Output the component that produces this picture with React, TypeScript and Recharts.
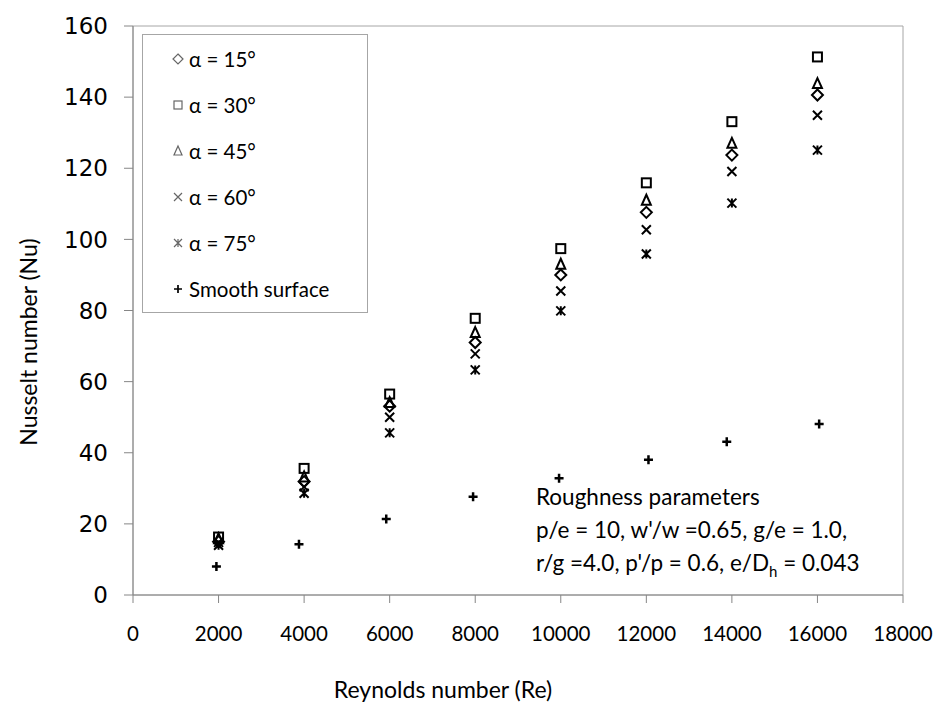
import React from "react";
import { ScatterChart, Scatter, XAxis, YAxis, ReferenceArea } from "recharts";

// Reynolds number positions of the ribbed-surface measurements
const reynolds = [2000, 4000, 6000, 8000, 10000, 12000, 14000, 16000];

// Nusselt number per rib angle
const nuAlpha15 = [15.0, 31.9, 53.1, 71.0, 90.0, 107.6, 123.7, 140.6];
const nuAlpha30 = [16.3, 35.6, 56.5, 77.8, 97.4, 115.9, 133.1, 151.3];
const nuAlpha45 = [15.8, 33.2, 54.1, 73.8, 93.0, 111.0, 127.0, 143.8];
const nuAlpha60 = [14.8, 30.4, 50.0, 67.8, 85.5, 102.7, 119.1, 134.9];
const nuAlpha75 = [14.0, 28.6, 45.6, 63.3, 79.9, 95.9, 110.2, 125.1];

// smooth duct reference
const reynoldsSmooth = [1950, 3880, 5920, 7950, 9960, 12050, 13880, 16040];
const nuSmooth = [8.0, 14.3, 21.4, 27.6, 32.8, 38.0, 43.1, 48.1];

const xTicks = [0, 2000, 4000, 6000, 8000, 10000, 12000, 14000, 16000, 18000];
const yTicks = [0, 20, 40, 60, 80, 100, 120, 140, 160];

const seriesNames = ["α = 15°", "α = 30°", "α = 45°", "α = 60°", "α = 75°", "Smooth surface"];
const seriesKinds = ["diamond", "square", "triangle", "x", "star", "plus"];

const FONT = "Lato, 'Open Sans', sans-serif";
const AXIS_GREY = "#868686";

type Kind = "diamond" | "square" | "triangle" | "x" | "star" | "plus";

function toPoints(xs: number[], ys: number[]) {
  return xs.map((x, i) => ({ x, y: ys[i] }));
}

function Marker({
  kind,
  cx,
  cy,
  size = 9,
  color = "#000",
  sw = 2,
}: {
  kind: Kind;
  cx: number;
  cy: number;
  size?: number;
  color?: string;
  sw?: number;
}) {
  const h = size / 2;
  const common = { fill: "none", stroke: color, strokeWidth: sw };
  switch (kind) {
    case "diamond":
      return (
        <polygon
          points={`${cx},${cy - h - 1} ${cx + h + 1},${cy} ${cx},${cy + h + 1} ${cx - h - 1},${cy}`}
          {...common}
        />
      );
    case "square":
      return <rect x={cx - h} y={cy - h} width={size} height={size} {...common} />;
    case "triangle":
      return <polygon points={`${cx},${cy - h - 1} ${cx + h},${cy + h} ${cx - h},${cy + h}`} {...common} />;
    case "x":
      return <path d={`M${cx - h},${cy - h}L${cx + h},${cy + h}M${cx + h},${cy - h}L${cx - h},${cy + h}`} {...common} />;
    case "star":
      return (
        <path
          d={`M${cx - h},${cy - h}L${cx + h},${cy + h}M${cx + h},${cy - h}L${cx - h},${cy + h}M${cx},${cy - h}L${cx},${cy + h}`}
          {...common}
        />
      );
    default:
      return <path d={`M${cx - h},${cy}L${cx + h},${cy}M${cx},${cy - h}L${cx},${cy + h}`} {...common} strokeWidth={sw + 0.5} />;
  }
}

const shapeFor = (kind: Kind) => (p: any) => <Marker kind={kind} cx={p.cx} cy={p.cy} />;

function LegendBox() {
  return (
    <div
      style={{
        position: "absolute",
        left: 142,
        top: 34,
        width: 224,
        height: 277,
        border: "1px solid #a6a6a6",
        background: "#fff",
        fontFamily: FONT,
        fontSize: 20.5,
        color: "#000",
      }}
    >
      {seriesNames.map((name, i) => (
        <div
          key={name}
          style={{
            position: "absolute",
            left: 27,
            top: 1 + i * 46,
            height: 46,
            display: "flex",
            alignItems: "center",
            whiteSpace: "nowrap",
          }}
        >
          <svg width={16} height={16} style={{ marginRight: 3 }}>
            <Marker
              kind={seriesKinds[i] as Kind}
              cx={8}
              cy={8}
              size={8}
              color={i === 5 ? "#000" : "#666"}
              sw={1.2}
            />
          </svg>
          <span>{name}</span>
        </div>
      ))}
    </div>
  );
}

export default function App() {
  const series = [nuAlpha15, nuAlpha30, nuAlpha45, nuAlpha60, nuAlpha75];
  return (
    <div style={{ position: "absolute", left: 0, top: 0, width: 943, height: 716, background: "#fff" }}>
      <ScatterChart width={943} height={716} margin={{ top: 26, right: 40, bottom: 61, left: 0 }}>
        <XAxis
          type="number"
          dataKey="x"
          domain={[0, 18000]}
          ticks={xTicks}
          interval={0}
          height={60}
          tickSize={8}
          tickMargin={23}
          stroke={AXIS_GREY}
          tick={{ fill: "#000", fontFamily: FONT, fontSize: 20.5 }}
        />
        <YAxis
          type="number"
          dataKey="y"
          domain={[0, 160]}
          ticks={yTicks}
          interval={0}
          width={133}
          tickSize={9}
          tickMargin={16}
          stroke={AXIS_GREY}
          tick={{ fill: "#000", fontFamily: "'DejaVu Sans', sans-serif", fontSize: 23 }}
        />
        <ReferenceArea x1={0} x2={18000} y1={0} y2={160} fill="none" stroke="#a6a6a6" strokeWidth={1} />
        {series.map((ys, i) => (
          <Scatter
            key={seriesNames[i]}
            name={seriesNames[i]}
            data={toPoints(reynolds, ys)}
            shape={shapeFor(seriesKinds[i] as Kind)}
            isAnimationActive={false}
          />
        ))}
        <Scatter
          name={seriesNames[5]}
          data={toPoints(reynoldsSmooth, nuSmooth)}
          shape={shapeFor("plus")}
          isAnimationActive={false}
        />
      </ScatterChart>

      <LegendBox />

      <div
        style={{
          position: "absolute",
          left: 28,
          top: 342,
          transform: "translate(-50%, -50%) rotate(-90deg)",
          whiteSpace: "nowrap",
          fontFamily: FONT,
          fontSize: 23,
        }}
      >
        Nusselt number (Nu)
      </div>
      <div
        style={{
          position: "absolute",
          left: 443,
          top: 689,
          transform: "translate(-50%, -50%)",
          whiteSpace: "nowrap",
          fontFamily: FONT,
          fontSize: 23,
        }}
      >
        Reynolds number (Re)
      </div>

      <div
        style={{
          position: "absolute",
          left: 536,
          top: 480,
          fontFamily: FONT,
          fontSize: 22.5,
          lineHeight: "33px",
          whiteSpace: "nowrap",
        }}
      >
        <div>Roughness parameters</div>
        <div>p/e = 10, w'/w =0.65, g/e = 1.0,</div>
        <div>
          r/g =4.0, p'/p = 0.6, e/D<sub style={{ fontSize: 15, lineHeight: 0 }}>h</sub> = 0.043
        </div>
      </div>
    </div>
  );
}
